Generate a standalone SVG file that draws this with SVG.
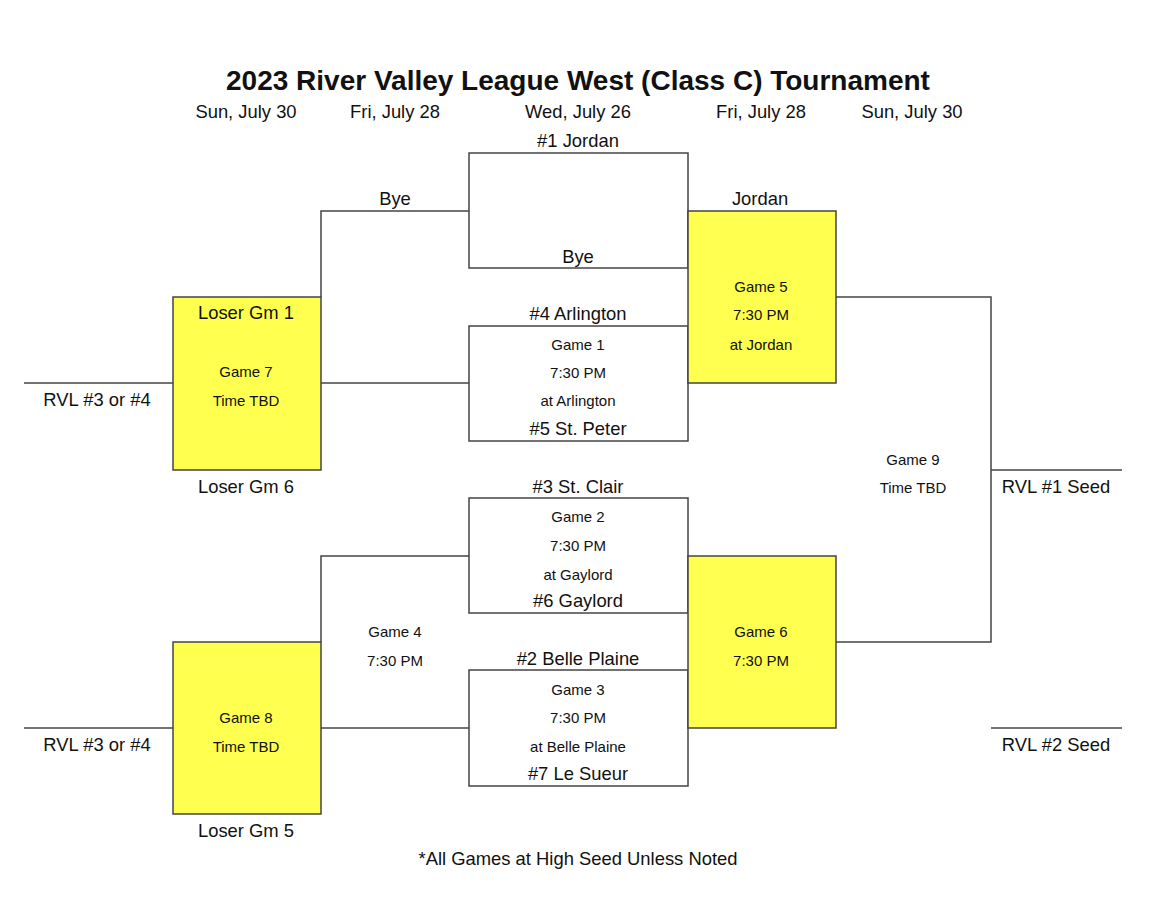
<svg xmlns="http://www.w3.org/2000/svg" width="1151" height="906" viewBox="0 0 1151 906">
<style>
text{font-family:"Liberation Sans",Arial,sans-serif;fill:#111;text-anchor:middle}
.t{font-size:28px;font-weight:bold}
.d{font-size:18.4px}
.n{font-size:18.4px}
.g{font-size:15px}
.box{fill:#fff;stroke:#444;stroke-width:1.5}
.yel{fill:#ffff50;stroke:#444;stroke-width:1.5}
.ln{fill:none;stroke:#444;stroke-width:1.5}
</style>
<rect width="1151" height="906" fill="#fff"/>
<text class="t" x="578" y="90">2023 River Valley League West (Class C) Tournament</text>
<g id="dates">
<text class="d" x="246" y="118">Sun, July 30</text>
<text class="d" x="395" y="118">Fri, July 28</text>
<text class="d" x="578" y="118">Wed, July 26</text>
<text class="d" x="761" y="118">Fri, July 28</text>
<text class="d" x="912" y="118">Sun, July 30</text>
</g>
<g id="connectors">
<path class="ln" d="M321,297 V211 H469"/>
<path class="ln" d="M321,383 H469"/>
<path class="ln" d="M24,383 H173"/>
<path class="ln" d="M321,642 V556 H469"/>
<path class="ln" d="M321,728 H469"/>
<path class="ln" d="M24,728 H173"/>
<path class="ln" d="M836,297 H991 V642 H836"/>
<path class="ln" d="M991,470 H1122"/>
<path class="ln" d="M991,728 H1122"/>
</g>
<g id="jordan-bye">
<rect class="box" x="469" y="153" width="219" height="115"/>
<text class="n" x="578" y="147">#1 Jordan</text>
<text class="n" x="578" y="263">Bye</text>
</g>
<g id="game1">
<rect class="box" x="469" y="326" width="219" height="115"/>
<text class="n" x="578" y="320">#4 Arlington</text>
<text class="g" x="578" y="350">Game 1</text>
<text class="g" x="578" y="378">7:30 PM</text>
<text class="g" x="578" y="406">at Arlington</text>
<text class="n" x="578" y="435">#5 St. Peter</text>
</g>
<g id="game2">
<rect class="box" x="469" y="498" width="219" height="115"/>
<text class="n" x="578" y="493">#3 St. Clair</text>
<text class="g" x="578" y="522">Game 2</text>
<text class="g" x="578" y="551">7:30 PM</text>
<text class="g" x="578" y="580">at Gaylord</text>
<text class="n" x="578" y="607">#6 Gaylord</text>
</g>
<g id="game3">
<rect class="box" x="469" y="670" width="219" height="116"/>
<text class="n" x="578" y="665">#2 Belle Plaine</text>
<text class="g" x="578" y="695">Game 3</text>
<text class="g" x="578" y="723">7:30 PM</text>
<text class="g" x="578" y="752">at Belle Plaine</text>
<text class="n" x="578" y="780">#7 Le Sueur</text>
</g>
<g id="game5">
<rect class="yel" x="688" y="211" width="148" height="172"/>
<text class="n" x="760" y="205">Jordan</text>
<text class="g" x="761" y="292">Game 5</text>
<text class="g" x="761" y="320">7:30 PM</text>
<text class="g" x="761" y="350">at Jordan</text>
</g>
<g id="game6">
<rect class="yel" x="688" y="556" width="148" height="172"/>
<text class="g" x="761" y="637">Game 6</text>
<text class="g" x="761" y="666">7:30 PM</text>
</g>
<g id="game7">
<rect class="yel" x="173" y="297" width="148" height="173"/>
<text class="n" x="246" y="319">Loser Gm 1</text>
<text class="g" x="246" y="377">Game 7</text>
<text class="g" x="246" y="406">Time TBD</text>
<text class="n" x="246" y="493">Loser Gm 6</text>
</g>
<g id="game8">
<rect class="yel" x="173" y="642" width="148" height="172"/>
<text class="g" x="246" y="723">Game 8</text>
<text class="g" x="246" y="752">Time TBD</text>
<text class="n" x="246" y="837">Loser Gm 5</text>
</g>
<g id="game4">
<text class="n" x="395" y="205">Bye</text>
<text class="g" x="395" y="637">Game 4</text>
<text class="g" x="395" y="666">7:30 PM</text>
</g>
<g id="game9">
<text class="g" x="913" y="465">Game 9</text>
<text class="g" x="913" y="493">Time TBD</text>
</g>
<g id="seeds">
<text class="n" x="97" y="406">RVL #3 or #4</text>
<text class="n" x="97" y="751">RVL #3 or #4</text>
<text class="n" x="1056" y="493">RVL #1 Seed</text>
<text class="n" x="1056" y="751">RVL #2 Seed</text>
</g>
<text class="n" x="578" y="865">*All Games at High Seed Unless Noted</text>
</svg>
